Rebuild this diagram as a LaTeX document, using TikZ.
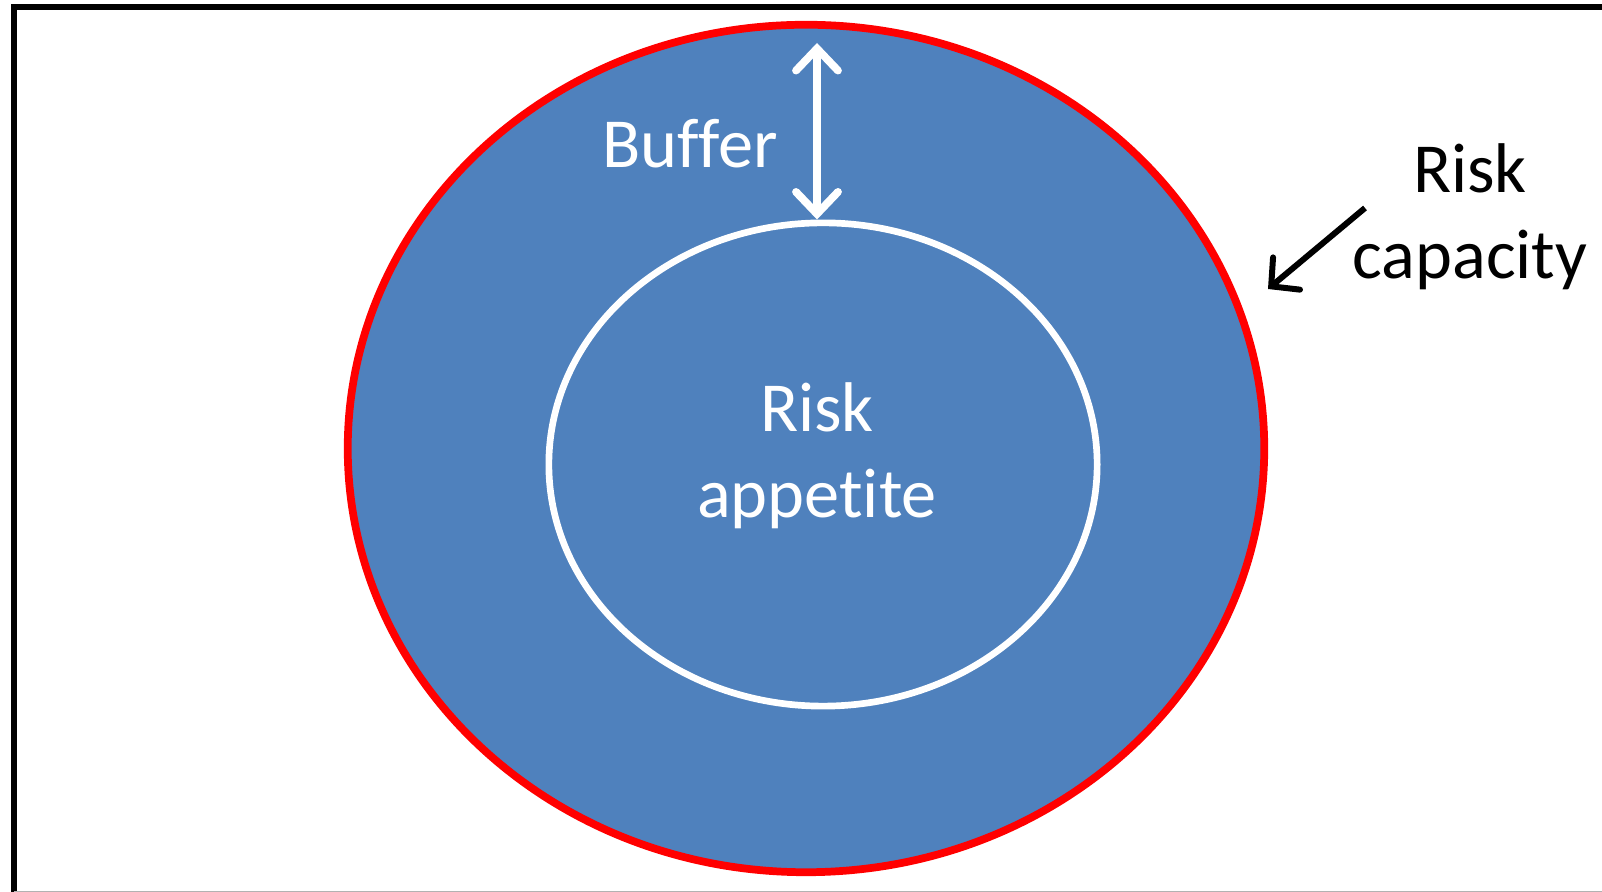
\documentclass[tikz,border=0pt]{standalone}
\usepackage{fontspec}
\setmainfont[Ligatures=NoCommon]{Carlito}
\usepackage{tikz}
\usetikzlibrary{positioning,arrows.meta,shapes.geometric}
\definecolor{rBlue}{RGB}{79,129,189}
\definecolor{rRed}{RGB}{255,0,0}
\tikzset{
  capacity/.style={ellipse, draw=rRed, fill=rBlue, line width=2.2pt,
                   minimum width=9.16cm, minimum height=8.47cm, inner sep=0pt},
  appetite/.style={ellipse, draw=white, line width=1.9pt,
                   minimum width=5.48cm, minimum height=4.83cm, inner sep=0pt},
  lbl/.style={font=\fontsize{20}{24.5}\selectfont, align=center, inner sep=0pt},
  wlbl/.style={lbl, text=white},
  frame/.style={draw=black, line width=1.6pt},
  bufarrow/.style={{Straight Barb[length=2.2mm, width=4.2mm, line cap=round]}-%
                   {Straight Barb[length=2.2mm, width=4.2mm, line cap=round]},
                   draw=white, line width=2.2pt, line cap=round},
  pointer/.style={-{Straight Barb[length=2mm, width=4.2mm, line cap=round]},
                  draw=black, line width=1.7pt},
}

\begin{document}
\begin{tikzpicture}[x=0.01cm, y=-0.01cm]
  \useasboundingbox (0,0) rectangle (1602,892);
  % frame of the slide
  \draw[frame] (1602,7) -- (14,7) -- (14,892);
  \draw[gray!60, line width=0.3pt] (14,891.5) -- (1602,891.5);

  \node[capacity] (cap) at (806,448.5) {};
  \node[appetite] (app) at (823,464.5) {};
  \node[wlbl] (applbl) at (817,456) {Risk\\appetite};

  \coordinate (buftop) at (817,43);
  \draw[bufarrow] (buftop |- app.north) -- (buftop);
  \node[wlbl] (buflbl) at (690,144) {Buffer};

  \node[lbl] (caplbl) at (1470,217) {Risk\\capacity};
  \coordinate (captail) at (1365,208);
  \coordinate (caphead) at (1268,289);
  \draw[pointer] (captail) -- (caphead);
\end{tikzpicture}
\end{document}
